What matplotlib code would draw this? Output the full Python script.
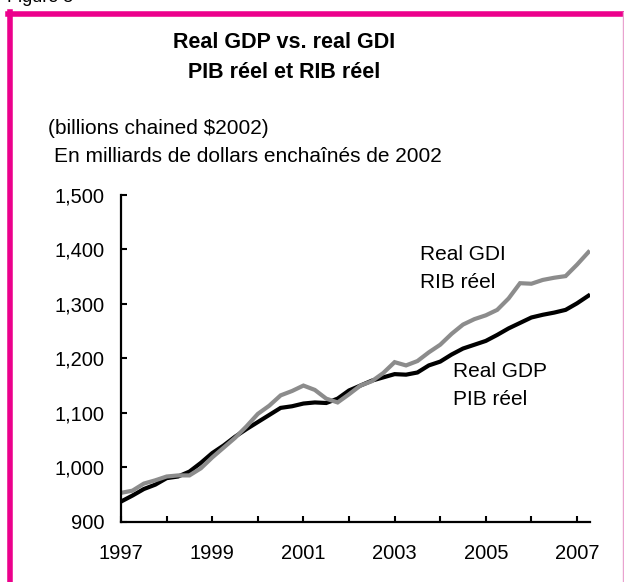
import matplotlib
matplotlib.use("Agg")
import matplotlib.pyplot as plt
from matplotlib.lines import Line2D
from matplotlib.ticker import FuncFormatter

plt.rcParams['font.family'] = ['Liberation Sans', 'DejaVu Sans']

# quarterly, 1997Q1 .. 2007Q2
quarters = [1997 + k / 4 for k in range(42)]

real_gdp = [937, 948, 960, 968, 980, 983, 992, 1008, 1026, 1040,
            1056, 1070, 1083, 1096, 1109, 1112, 1117, 1119, 1118, 1126,
            1141, 1150, 1159, 1165, 1171, 1170, 1174, 1187, 1194, 1207,
            1218, 1225, 1232, 1243, 1255, 1265, 1275, 1280, 1284, 1289,
            1301, 1315]

real_gdi = [953, 957, 970, 976, 983, 985, 985, 998, 1018, 1036,
            1054, 1075, 1098, 1113, 1132, 1140, 1150, 1142, 1126, 1119,
            1134, 1150, 1158, 1173, 1193, 1187, 1195, 1211, 1225, 1245,
            1262, 1272, 1279, 1289, 1310, 1338, 1337, 1344, 1348, 1351,
            1372, 1395]

year_ticks = list(range(1997, 2008))
year_labels = [str(y) if y % 2 == 1 else "" for y in year_ticks]
y_ticks = [900, 1000, 1100, 1200, 1300, 1400, 1500]

magenta = "#EC008C"

fig = plt.figure(figsize=(6.24, 5.82), dpi=100)
ax = fig.add_axes([0.194, 0.1036, 0.7515, 0.5614])

ax.plot(quarters, real_gdp, color="black", lw=3.0, solid_joinstyle="miter")
ax.plot(quarters, real_gdi, color="#8c8c8c", lw=3.0, solid_joinstyle="miter")

ax.set_xlim(1997, 2007.285)
ax.set_ylim(900, 1500)
ax.set_xticks(year_ticks)
ax.set_xticklabels(year_labels)
ax.set_yticks(y_ticks)
ax.yaxis.set_major_formatter(FuncFormatter(lambda v, p: f"{int(v):,}"))

for side in ("top", "right"):
    ax.spines[side].set_visible(False)
for side in ("left", "bottom"):
    ax.spines[side].set_linewidth(1.6)
ax.tick_params(axis="both", direction="in", length=4.5, width=1.5, labelsize=14.5)
ax.tick_params(axis="y", pad=12)
ax.tick_params(axis="x", pad=16)

ax.text(2003.56, 1365, "Real GDI\nRIB réel", fontsize=15, va="center", ha="left",
        linespacing=1.55)
ax.text(2004.28, 1150, "Real GDP\nPIB réel", fontsize=15, va="center", ha="left",
        linespacing=1.55)

fig.text(284 / 624, 1 - 43 / 582, "Real GDP vs. real GDI", fontsize=15.5,
         fontweight="bold", ha="center", va="center")
fig.text(284 / 624, 1 - 72 / 582, "PIB réel et RIB réel", fontsize=15.5,
         fontweight="bold", ha="center", va="center")
fig.text(48 / 624, 1 - 128 / 582, "(billions chained $2002)", fontsize=15,
         ha="left", va="center")
fig.text(54 / 624, 1 - 157 / 582, "En milliards de dollars enchaînés de 2002",
         fontsize=15, ha="left", va="center")
fig.text(7 / 624, 1 - 2 / 582, "Figure 5", fontsize=13, ha="left", va="baseline")

# frame around the chart
fig.add_artist(Line2D([7.5 / 624, 1.0], [1 - 13.5 / 582] * 2, color=magenta,
                      lw=4, transform=fig.transFigure))
fig.add_artist(Line2D([10 / 624] * 2, [0.0, 1 - 11.5 / 582], color=magenta,
                      lw=4, transform=fig.transFigure))
fig.add_artist(Line2D([622.5 / 624] * 2, [0.0, 1 - 11.5 / 582], color="#e9a3cf",
                      lw=1, transform=fig.transFigure))

fig.savefig("out.png", dpi=100)
